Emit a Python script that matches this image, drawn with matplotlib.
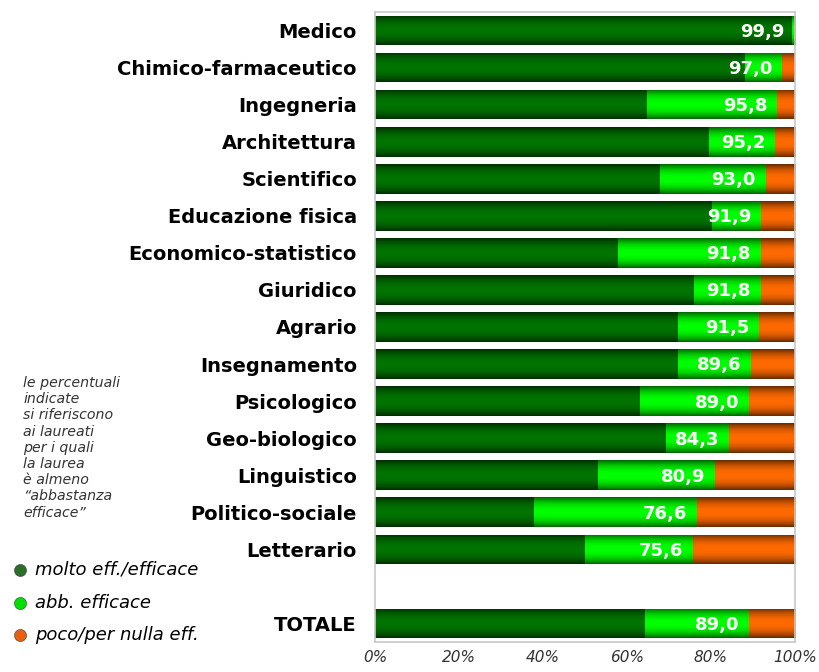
import numpy as np
import matplotlib
matplotlib.use("Agg")
import matplotlib.pyplot as plt
from matplotlib.colors import to_rgb

categories = ["Medico", "Chimico-farmaceutico", "Ingegneria", "Architettura", "Scientifico",
              "Educazione fisica", "Economico-statistico", "Giuridico", "Agrario", "Insegnamento",
              "Psicologico", "Geo-biologico", "Linguistico", "Politico-sociale", "Letterario", "TOTALE"]
molto = [99.3, 88.1, 64.8, 79.5, 67.9, 80.2, 57.9, 76.0, 72.1, 72.1, 63.1, 69.3, 53.1, 37.9, 50.0, 64.3]
abb = [0.6, 8.9, 31.0, 15.7, 25.1, 11.7, 33.9, 15.8, 19.4, 17.5, 25.9, 15.0, 27.8, 38.7, 25.6, 24.7]
poco = [0.1, 3.0, 4.2, 4.8, 7.0, 8.1, 8.2, 8.2, 8.5, 10.4, 11.0, 15.7, 19.1, 23.4, 24.4, 11.0]
series_names = ["molto eff./efficace", "abb. efficace", "poco/per nulla eff."]
series_colors = ["#007400", "#00ff00", "#ff6a00"]
legend_colors = ["#2a6e2a", "#00e000", "#e86010"]
xticks = [0, 20, 40, 60, 80, 100]
note = ("le percentuali\nindicate\nsi riferiscono\nai laureati\nper i quali\nla laurea\n"
        "è almeno\n\u201cabbastanza\nefficace\u201d")

molto, abb, poco = np.array(molto), np.array(abb), np.array(poco)
# TOTALE sits one empty slot below the others
ypos = np.r_[np.arange(len(categories) - 1), len(categories)]

fig = plt.figure(figsize=(8.19, 6.72), dpi=100)
ax = fig.add_axes([375 / 819, 1 - 642 / 672, 420 / 819, 630 / 672])

# cylinder-like shading: dark at top/bottom edges, bright in the middle
t = np.linspace(-1, 1, 64)
shade = 1 - 0.6 * np.abs(t) ** 2.2


def shaded(bars, color):
    rgb = np.array(to_rgb(color))
    img = shade[:, None, None] * rgb[None, None, :]
    for b in bars:
        x0, y0 = b.get_x(), b.get_y()
        w, h = b.get_width(), b.get_height()
        if w <= 0:
            continue
        im = ax.imshow(img, extent=(x0, x0 + w, y0 + h, y0), aspect="auto",
                       interpolation="bilinear", zorder=2)
        im.set_clip_path(b)


left = np.zeros(len(categories))
for vals, col in zip([molto, abb, poco], series_colors):
    bars = ax.barh(ypos, vals, left=left, height=0.8, color=col, linewidth=0, zorder=1)
    shaded(bars, col)
    left = left + vals

totals = molto + abb
for y, tot in zip(ypos, totals):
    ax.annotate(f"{tot:.1f}".replace(".", ","), xy=(tot, y), xytext=(-7, -1),
                textcoords="offset points", ha="right", va="center",
                color="white", fontsize=13, fontweight="bold", zorder=5)

ax.set_xlim(0, 100)
ax.set_ylim(len(categories) + 0.5, -0.5)
ax.set_yticks(ypos)
ax.set_yticklabels(categories, fontsize=14, fontweight="bold")
ax.set_xticks(xticks)
ax.set_xticklabels([f"{v}%" for v in xticks], fontsize=11, style="italic", color="#333333")
ax.tick_params(axis="y", length=0, pad=13)
ax.tick_params(axis="x", length=0, pad=6)
for s in ax.spines.values():
    s.set_color("#c8c8c8")
    s.set_linewidth(1.2)

# note and legend on an overlay in pixel coordinates
ov = fig.add_axes([0, 0, 1, 1], zorder=-1)
ov.set_xlim(0, 819)
ov.set_ylim(672, 0)
ov.axis("off")
ov.text(23, 376, note, fontsize=10.2, style="italic", color="#333333",
        va="top", ha="left", linespacing=1.2)
for i, (name, col) in enumerate(zip(series_names, legend_colors)):
    yy = 570 + 32.5 * i
    ov.scatter([20], [yy], s=75, color=col, edgecolors="#3a3a3a", linewidths=0.4)
    ov.text(35, yy, name, fontsize=13, style="italic", color="black", va="center", ha="left")

fig.savefig("out.png", dpi=100)
